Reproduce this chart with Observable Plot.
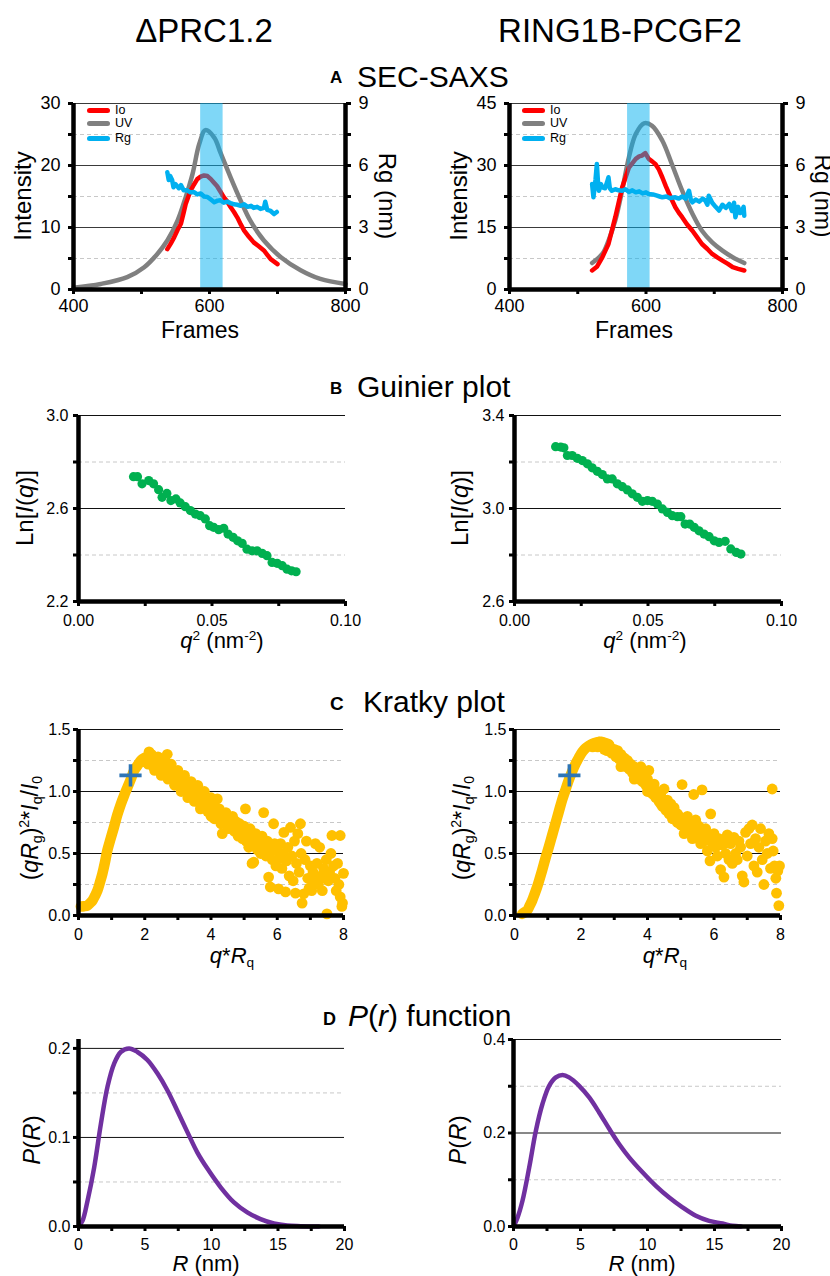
<!DOCTYPE html>
<html><head><meta charset="utf-8">
<script src="https://cdn.jsdelivr.net/npm/d3@7"></script>
<script src="https://cdn.jsdelivr.net/npm/@observablehq/plot@0.6"></script>
<style>
body{margin:0;background:#fff;}
#root{position:relative;width:830px;height:1276px;overflow:hidden;font-family:"Liberation Sans",Arial,Helvetica,sans-serif;color:#000;background:#fff;}
.t{position:absolute;white-space:nowrap;line-height:1;}
.sup{font-size:0.62em;position:relative;top:-0.6em;}
.sub{font-size:0.62em;position:relative;top:0.28em;}
</style></head><body><div id="root"></div><script>
const FONT = '"Liberation Sans", Arial, Helvetica, sans-serif';
const root = document.getElementById("root");

// ---------------- DATA ----------------
// A: SEC-SAXS, ΔPRC1.2  [frame, value]
const secL_uv = [[400,0.27],[440,0.9],[479,2.0],[504,3.6],[523,5.7],[538,7.9],[553,11.1],[565,14.9],[575,18.6],[585,23.5],[594,25.7],[607,24.5],[616,22.1],[631,18.1],[646,14.3],[660,11.1],[680,7.9],[705,5.2],[734,3.1],[763,1.7],[800,0.9]];
const secL_io = [[538,6.5],[543,7.4],[548,8.4],[553,9.6],[558,10.6],[562,12.4],[565,13.8],[569,15.0],[572,15.9],[577,16.9],[582,17.8],[587,18.2],[592,18.4],[597,18.3],[602,17.8],[606,17.3],[611,16.7],[616,15.8],[621,14.9],[626,14.2],[631,13.3],[636,12.5],[641,11.6],[646,10.5],[651,9.5],[658,8.5],[665,7.6],[672,7.0],[680,6.3],[685,5.6],[690,4.9],[695,4.5],[700,4.1]];
const secL_rg = [[538,5.67],[540,5.3],[542,5.5],[545,5.3],[547,4.95],[550,5.1],[555,4.9],[558,5.05],[562,4.8],[567,4.8],[572,4.7],[577,4.72],[582,4.6],[587,4.65],[592,4.5],[597,4.48],[602,4.35],[607,4.22],[612,4.3],[616,4.32],[621,4.2],[626,4.25],[631,4.18],[636,4.12],[641,4.1],[646,4.05],[651,4.12],[656,4.0],[661,4.05],[665,3.95],[670,4.0],[675,3.9],[680,3.95],[682,4.25],[685,3.85],[690,3.8],[695,3.65],[699,3.75]];
const secL_band = [587, 620];
// A: SEC-SAXS, RING1B-PCGF2
const secR_uv = [[521,6.4],[536,8.6],[545,11.8],[555,16.7],[565,23.9],[575,32.0],[585,37.6],[597,40.2],[609,39.6],[624,36.0],[638,30.3],[653,23.9],[668,18.3],[682,14.2],[697,11.4],[712,9.4],[727,7.8],[744,6.4]];
const secR_io = [[521,4.6],[528,5.5],[536,7.8],[545,11.0],[555,17.5],[565,24.7],[575,29.5],[585,31.6],[590,32.2],[594,32.4],[599,33.0],[604,31.6],[609,31.0],[614,30.3],[619,29.0],[624,27.1],[629,25.0],[634,23.1],[639,21.3],[643,19.9],[648,18.6],[653,17.5],[660,15.8],[668,14.2],[675,12.6],[682,11.0],[690,9.8],[697,8.6],[705,7.7],[712,7.0],[720,6.2],[727,5.4],[735,5.0],[744,4.6]];
const secR_rg = [[521,5.1],[523,4.46],[526,5.3],[528,6.07],[530,5.0],[531,4.78],[534,5.1],[536,4.94],[540,4.9],[543,5.2],[545,5.43],[547,4.9],[550,4.78],[555,4.85],[560,4.8],[565,4.78],[570,4.85],[575,4.72],[580,4.8],[585,4.7],[590,4.75],[595,4.65],[600,4.7],[604,4.62],[610,4.6],[615,4.55],[620,4.5],[624,4.46],[630,4.5],[635,4.42],[640,4.45],[643,4.46],[648,4.4],[653,4.5],[658,4.4],[663,4.78],[666,4.3],[668,4.22],[673,4.35],[678,4.25],[683,4.4],[687,4.3],[690,4.1],[692,4.54],[697,4.2],[702,4.0],[707,3.82],[712,4.1],[717,3.95],[722,4.14],[726,3.8],[729,4.2],[731,3.5],[735,4.0],[738,3.7],[741,3.82],[743,4.0],[744,3.57]];
const secR_band = [573, 606];
const secRgTicks = [0,1.5,3,4.5,6,7.5,9];
const secRgLabels = [0,3,6,9];
const secFrameTicks = [400,500,600,700,800];
const secFrameLabels = [400,600,800];
const legendItems = [["Io","#ff0000"],["UV","#808080"],["Rg","#00b0f0"]];

// B: Guinier [q^2, ln I]
const guinL = [[0.0206,2.737],[0.0221,2.737],[0.0238,2.706],[0.0263,2.72],[0.0281,2.706],[0.030,2.681],[0.0313,2.648],[0.0331,2.665],[0.0346,2.634],[0.0365,2.641],[0.0381,2.624],[0.040,2.608],[0.0419,2.591],[0.0438,2.576],[0.0456,2.569],[0.0475,2.555],[0.0491,2.526],[0.0506,2.519],[0.0525,2.509],[0.0544,2.515],[0.056,2.49],[0.0579,2.476],[0.0596,2.461],[0.0613,2.45],[0.0631,2.425],[0.065,2.418],[0.0669,2.418],[0.0688,2.407],[0.0706,2.397],[0.0725,2.368],[0.0744,2.364],[0.0763,2.354],[0.0781,2.339],[0.0798,2.332],[0.0815,2.328]];
const guinR = [[0.0154,3.266],[0.0173,3.264],[0.0185,3.261],[0.0198,3.228],[0.0216,3.228],[0.0235,3.216],[0.0254,3.206],[0.0273,3.192],[0.0291,3.175],[0.031,3.16],[0.0329,3.146],[0.0348,3.127],[0.0366,3.127],[0.0385,3.106],[0.0404,3.094],[0.0423,3.08],[0.0441,3.063],[0.046,3.048],[0.0479,3.031],[0.0498,3.034],[0.0516,3.031],[0.0535,3.019],[0.0554,2.998],[0.0573,2.983],[0.0591,2.969],[0.061,2.965],[0.0623,2.965],[0.0639,2.933],[0.0656,2.933],[0.0673,2.919],[0.0691,2.904],[0.071,2.89],[0.0729,2.879],[0.0748,2.861],[0.0766,2.854],[0.0789,2.859],[0.081,2.826],[0.0831,2.811],[0.0848,2.804]];

// C: Kratky [q*Rg, (qRg)^2*Iq/I0]
const kratLCurve = [[0.07,0.073],[0.17,0.075],[0.27,0.08],[0.35,0.1],[0.42,0.12],[0.5,0.16],[0.57,0.2],[0.65,0.27],[0.72,0.336],[0.8,0.43],[0.87,0.524],[0.97,0.62],[1.07,0.712],[1.17,0.81],[1.28,0.9],[1.38,0.97],[1.48,1.035],[1.58,1.1],[1.68,1.17],[1.78,1.21],[1.88,1.25],[1.98,1.27],[2.08,1.28],[2.18,1.285],[2.28,1.277]];
const kratLPts = [[2.0,1.24],[2.05,1.27],[2.1,1.22],[2.13,1.32],[2.18,1.26],[2.22,1.29],[2.26,1.2],[2.3,1.27],[2.35,1.23],[2.4,1.25],[2.44,1.18],[2.48,1.24],[2.52,1.2],[2.56,1.15],[2.6,1.22],[2.65,1.17],[2.68,1.3],[2.72,1.2],[2.76,1.13],[2.8,1.18],[2.85,1.14],[2.9,1.1],[2.95,1.16],[3.0,1.07],
[3.05,1.12],[3.1,1.04],[3.15,1.1],[3.2,1.06],[3.25,1.0],[3.3,1.08],[3.33,1.02],[3.38,0.98],[3.42,1.05],[3.48,0.97],[3.52,1.01],[3.56,0.94],[3.6,1.03],[3.65,0.96],[3.68,0.86],[3.72,0.92],[3.78,0.98],[3.82,0.9],[3.86,0.95],[3.9,0.88],[3.95,0.93],[4.0,0.8],
[4.05,0.87],[4.09,0.79],[4.14,0.84],[4.19,0.94],[4.24,0.8],[4.28,0.76],[4.34,0.66],[4.38,0.82],[4.42,0.74],[4.48,0.79],[4.52,0.7],[4.56,0.78],[4.6,0.72],[4.65,0.8],[4.7,0.68],[4.74,0.76],[4.78,0.71],[4.82,0.64],[4.86,0.74],[4.9,0.7],[4.95,0.62],[5.0,0.72],
[5.04,0.86],[5.06,0.6],[5.1,0.66],[5.14,0.55],[5.18,0.7],[5.22,0.62],[5.24,0.42],[5.29,0.43],[5.3,0.58],[5.35,0.66],[5.4,0.53],[5.45,0.6],[5.5,0.5],[5.54,0.64],[5.59,0.83],[5.62,0.56],[5.66,0.48],[5.7,0.6],[5.74,0.31],[5.79,0.23],[5.8,0.52],[5.85,0.45],[5.89,0.74],[5.92,0.58],[5.96,0.4],[6.0,0.52],
[6.04,0.215],[6.06,0.46],[6.1,0.58],[6.14,0.38],[6.18,0.5],[6.2,0.67],[6.25,0.19],[6.28,0.44],[6.32,0.55],[6.36,0.32],[6.4,0.71],[6.44,0.48],[6.48,0.28],[6.52,0.6],[6.55,0.18],[6.58,0.42],[6.62,0.66],[6.66,0.35],[6.7,0.74],[6.72,0.5],[6.75,0.1],[6.8,0.175],[6.84,0.45],[6.88,0.6],[6.92,0.3],[6.96,0.22],[7.0,0.4],
[7.04,0.2],[7.08,0.35],[7.12,0.28],[7.15,0.58],[7.2,0.42],[7.24,0.25],[7.28,0.55],[7.32,0.32],[7.36,0.2],[7.4,0.38],[7.44,0.3],[7.48,0.45],[7.5,0.013],[7.54,0.28],[7.58,0.35],[7.62,0.5],[7.65,0.645],[7.7,0.4],[7.74,0.3],[7.78,0.2],[7.82,0.42],[7.86,0.25],[7.9,0.645],[7.9,0.15],[7.95,0.073],[8.0,0.34],[7.97,0.1],
[2.2,1.3],[2.4,1.28],[2.6,1.26],[2.8,1.22],[3.0,1.17],[3.2,1.13],[3.4,1.08],[3.6,1.05],[3.8,1.0],[4.0,0.95],
[2.3,1.17],[2.5,1.13],[2.7,1.1],[2.9,1.05],[3.1,1.0],[3.3,0.95],[3.5,0.92],[3.7,0.88],[3.9,0.84],[4.1,0.78],[4.3,0.74],
[2.25,1.23],[2.45,1.21],[2.65,1.19],[2.85,1.14],[3.05,1.09],[3.25,1.05],[3.45,1.01],[3.65,0.97],[3.85,0.93],[4.05,0.9],[4.25,0.86],[4.45,0.83],[4.65,0.77],[4.85,0.74],[5.05,0.69],[5.25,0.66],[5.45,0.62]];
const kratLMark = [[1.57,1.13]];
const kratRCurve = [[0.23,0.013],[0.3,0.025],[0.38,0.04],[0.45,0.075],[0.53,0.12],[0.6,0.17],[0.68,0.23],[0.75,0.29],[0.83,0.363],[0.93,0.46],[1.03,0.55],[1.13,0.645],[1.23,0.74],[1.33,0.835],[1.43,0.93],[1.53,1.01],[1.63,1.09],[1.73,1.16],[1.83,1.22],[1.93,1.27],[2.04,1.32],[2.14,1.35],[2.24,1.37],[2.39,1.39],[2.54,1.4],[2.69,1.395],[2.84,1.38]];
const kratRPts = [[2.35,1.36],[2.45,1.38],[2.55,1.4],[2.62,1.4],[2.7,1.36],[2.78,1.33],[2.85,1.37],[2.92,1.31],[3.0,1.34],
[3.05,1.28],[3.1,1.33],[3.15,1.26],[3.2,1.3],[3.25,1.22],[3.3,1.27],[3.35,1.2],[3.4,1.25],[3.45,1.18],[3.5,1.22],[3.55,1.15],[3.6,1.2],[3.65,1.13],[3.7,1.17],[3.75,1.1],[3.8,1.2],[3.85,1.08],[3.9,1.13],[3.95,1.05],[4.0,1.1],[4.04,1.17],
[4.1,1.03],[4.15,0.98],[4.2,1.06],[4.25,0.95],[4.3,1.0],[4.35,0.92],[4.4,0.97],[4.45,0.88],[4.5,1.02],[4.55,0.85],[4.6,0.93],[4.65,0.82],[4.7,0.9],[4.75,0.78],[4.8,0.87],[4.85,0.83],[4.9,0.75],[4.95,0.8],[5.0,0.73],
[5.04,1.056],[5.39,0.976],[5.64,1.013],[7.75,1.02],
[5.05,0.78],[5.1,0.66],[5.15,0.72],[5.2,0.8],[5.25,0.68],[5.3,0.74],[5.35,0.62],[5.4,0.7],[5.45,0.77],[5.5,0.65],[5.55,0.72],[5.6,0.58],[5.65,0.68],[5.7,0.6],[5.75,0.7],[5.8,0.52],[5.85,0.63],[5.88,0.44],[5.9,0.82],[5.95,0.58],[6.0,0.66],
[6.05,0.55],[6.1,0.48],[6.15,0.62],[6.2,0.37],[6.25,0.57],[6.3,0.31],[6.35,0.5],[6.4,0.65],[6.45,0.45],[6.5,0.58],[6.55,0.42],[6.6,0.63],[6.65,0.5],[6.7,0.45],[6.75,0.6],[6.8,0.55],[6.85,0.32],[6.9,0.27],[6.95,0.67],[7.0,0.48],
[7.05,0.7],[7.1,0.58],[7.15,0.73],[7.2,0.4],[7.25,0.62],[7.3,0.35],[7.35,0.55],[7.4,0.7],[7.45,0.45],[7.5,0.25],[7.55,0.6],[7.6,0.5],[7.65,0.66],[7.7,0.38],[7.75,0.62],[7.78,0.52],[7.82,0.4],[7.86,0.3],[7.88,0.18],[7.92,0.36],[7.95,0.08],[7.97,0.4],
[2.5,1.36],[2.7,1.34],[2.9,1.33],[3.1,1.29],[3.3,1.24],[3.5,1.19],[3.7,1.14],[3.9,1.09],[4.1,1.04],[4.3,0.98],[4.5,0.93],[4.7,0.87],[4.9,0.82],[5.1,0.77],[5.3,0.73],[5.5,0.7],[5.7,0.66],[5.9,0.63],[6.1,0.6],[6.3,0.58],[3.2,1.2],[3.6,1.1],[4.0,1.0],[4.4,0.9],[4.8,0.79],[5.2,0.72]];
const kratRMark = [[1.65,1.13]];

// D: P(r) [R nm, P(R)]
const prL = [[0,0],[0.3,0.0064],[0.68,0.029],[1.18,0.0665],[1.68,0.115],[2.18,0.157],[2.68,0.183],[3.18,0.196],[3.8,0.2],[4.43,0.196],[5.18,0.187],[5.93,0.172],[6.68,0.153],[7.43,0.13],[8.19,0.106],[8.94,0.083],[9.69,0.065],[10.69,0.044],[11.69,0.027],[12.69,0.0158],[13.69,0.0083],[14.69,0.0034],[15.69,0.0011],[16.7,0.0004],[18.07,0]];
const prR = [[0,0],[0.3,0.019],[0.67,0.055],[1.17,0.126],[1.67,0.205],[2.16,0.262],[2.66,0.301],[3.16,0.319],[3.66,0.324],[4.15,0.319],[4.9,0.301],[5.65,0.276],[6.39,0.244],[7.14,0.209],[7.89,0.176],[8.63,0.148],[9.63,0.116],[10.62,0.087],[11.62,0.062],[12.61,0.041],[13.61,0.023],[14.6,0.012],[15.6,0.0064],[16.34,0.0014],[16.97,0]];

// ---------------- HELPERS ----------------
function txt(html, x, baseline, fs, o = {}) {
  const d = document.createElement("div");
  d.className = "t";
  d.innerHTML = html;
  d.style.fontSize = fs + "px";
  if (o.bold) d.style.fontWeight = "bold";
  d.style.top = (baseline - 0.86 * fs) + "px";
  d.style.left = x + "px";
  if (o.mid) d.style.transform = "translateX(-50%)";
  root.appendChild(d);
}
function vtxt(html, cx, cy, fs, rot) {
  const d = document.createElement("div");
  d.className = "t";
  d.innerHTML = html;
  d.style.fontSize = fs + "px";
  d.style.left = cx + "px";
  d.style.top = cy + "px";
  d.style.transform = `translate(-50%,-50%) rotate(${rot}deg)`;
  root.appendChild(d);
}
function legend(x, ys) {
  legendItems.forEach(([label, color], i) => {
    const bar = document.createElement("div");
    bar.style.cssText = `position:absolute;left:${x}px;top:${ys[i] - 2.5}px;width:23px;height:5px;background:${color};border-radius:2.5px;`;
    root.appendChild(bar);
    txt(label, x + 28, ys[i] + 4.5, 12.5);
  });
}
const P = d => d[0], V = d => d[1];

function panel(o) {
  const m = {l: 70, r: o.right ? 45 : 25, t: 12, b: 40};
  const W = o.x1 - o.x0, H = o.y1 - o.y0;
  const fmtX = d => o.xLabels.includes(d) ? o.xFmt(d) : "";
  const fmtY = d => o.yLabels.includes(d) ? o.yFmt(d) : "";
  const marks = [
    Plot.ruleY(o.yMinor, {stroke: "#c8c8c8", strokeWidth: 1, strokeDasharray: "4,3"}),
    Plot.ruleY(o.yMajor, {stroke: o.gridColor || "#111", strokeWidth: 1}),
    ...o.marks,
    Plot.ruleX([o.xDomain[0]], {stroke: "#000", strokeWidth: 4.5}),
    Plot.ruleY([o.yDomain[0]], {stroke: "#000", strokeWidth: 4.5}),
    Plot.axisX({ticks: o.xTicks, tickFormat: fmtX, tickSize: 5, tickPadding: o.xPad, strokeWidth: 3, fontSize: o.fs, label: null}),
    Plot.axisY({ticks: o.yTicks, tickFormat: fmtY, tickSize: 5, tickPadding: o.yPad, strokeWidth: 3, fontSize: o.fs, label: null})
  ];
  if (o.right) {
    marks.push(Plot.ruleX([o.xDomain[1]], {stroke: "#000", strokeWidth: 4.5}));
    marks.push(Plot.axisY({anchor: "right", ticks: o.right.ticks, tickFormat: o.right.fmt, tickSize: 5, tickPadding: 8, strokeWidth: 3, fontSize: o.fs, label: null}));
  }
  const svg = Plot.plot({
    width: W + m.l + m.r, height: H + m.t + m.b,
    marginLeft: m.l, marginRight: m.r, marginTop: m.t, marginBottom: m.b,
    style: {fontFamily: FONT, fontSize: o.fs + "px", color: "#000", background: "transparent", overflow: "visible"},
    x: {domain: o.xDomain, label: null},
    y: {domain: o.yDomain, label: null},
    marks
  });
  svg.style.position = "absolute";
  svg.style.left = (o.x0 - m.l) + "px";
  svg.style.top = (o.y0 - m.t) + "px";
  svg.style.maxWidth = "none";
  root.appendChild(svg);
}

// ---------------- PANEL A ----------------
function secPanel(x0, x1, yMax, uv, io, rg, band) {
  const f = yMax / 9;
  const step = yMax / 6;
  const yTicks = secRgTicks.map(v => v * f);
  panel({
    x0, x1, y0: 103, y1: 289, fs: 18, xPad: 5, yPad: 8, gridColor: "#3a3a3a",
    xDomain: [400, 800], yDomain: [0, yMax],
    xTicks: secFrameTicks, xLabels: secFrameLabels, xFmt: d => String(d),
    yTicks, yLabels: secRgLabels.map(v => v * f), yFmt: d => String(Math.round(d)),
    yMajor: [2, 4, 6].map(k => k * step), yMinor: [1, 3, 5].map(k => k * step),
    right: {ticks: yTicks, fmt: d => { const v = Math.round(d / f * 10) / 10; return secRgLabels.includes(v) ? String(v) : ""; }},
    marks: [
      Plot.line(uv, {x: P, y: V, stroke: "#808080", strokeWidth: 4.5, curve: "catmull-rom"}),
      Plot.line(io, {x: P, y: V, stroke: "#ff0000", strokeWidth: 4.5, strokeLinejoin: "round"}),
      Plot.line(rg, {x: P, y: d => d[1] * f, stroke: "#00b0f0", strokeWidth: 4.5, strokeLinejoin: "round"}),
      Plot.rect([band], {x1: d => d[0], x2: d => d[1], fill: "#00b0f0", fillOpacity: 0.5})
    ]
  });
}
secPanel(73, 345, 30, secL_uv, secL_io, secL_rg, secL_band);
secPanel(509, 782, 45, secR_uv, secR_io, secR_rg, secR_band);

// ---------------- PANEL B ----------------
function guinPanel(x0, x1, yMin, data) {
  const ys = [0, 1, 2, 3, 4].map(k => +(yMin + k * 0.2).toFixed(1));
  panel({
    x0, x1, y0: 415, y1: 601, fs: 16, xPad: 8, yPad: 5,
    xDomain: [0, 0.1], yDomain: [yMin, yMin + 0.8],
    xTicks: [0, 0.025, 0.05, 0.075, 0.1], xLabels: [0, 0.05, 0.1], xFmt: d => d.toFixed(2),
    yTicks: ys, yLabels: [ys[0], ys[2], ys[4]], yFmt: d => d.toFixed(1),
    yMajor: [ys[2], ys[4]], yMinor: [ys[1], ys[3]],
    marks: [Plot.dot(data, {x: P, y: V, r: 4.6, fill: "#00b050"})]
  });
}
guinPanel(78, 345, 2.2, guinL);
guinPanel(514, 781, 2.6, guinR);

// ---------------- PANEL C ----------------
function kratPanel(x0, x1, curve, pts, mark) {
  panel({
    x0, x1, y0: 729, y1: 915, fs: 16, xPad: 8, yPad: 3,
    xDomain: [0, 8], yDomain: [0, 1.5],
    xTicks: [0, 1, 2, 3, 4, 5, 6, 7, 8], xLabels: [0, 2, 4, 6, 8], xFmt: d => String(d),
    yTicks: [0, 0.25, 0.5, 0.75, 1, 1.25, 1.5], yLabels: [0, 0.5, 1, 1.5], yFmt: d => d.toFixed(1),
    yMajor: [0.5, 1, 1.5], yMinor: [0.25, 0.75, 1.25],
    marks: [
      Plot.line(curve, {x: P, y: V, stroke: "#ffc000", strokeWidth: 10.5, strokeLinecap: "round", curve: "catmull-rom"}),
      Plot.dot(pts, {x: P, y: V, r: 5.4, fill: "#ffc000"}),
      Plot.dot(mark, {x: P, y: V, r: 7.2, symbol: "plus", stroke: "#2e75b6", strokeWidth: 3.6})
    ]
  });
}
kratPanel(78, 343, kratLCurve, kratLPts, kratLMark);
kratPanel(514, 780, kratRCurve, kratRPts, kratRMark);

// ---------------- PANEL D ----------------
function prPanel(x0, x1, yMax, top, yStep, data) {
  const ys = [0, 1, 2, 3, 4].map(k => +(k * yStep).toFixed(2));
  panel({
    x0, x1, y0: top, y1: 1226, fs: 16, xPad: 7, yPad: 3,
    xDomain: [0, 20], yDomain: [0, yMax],
    xTicks: [0, 2.5, 5, 7.5, 10, 12.5, 15, 17.5, 20], xLabels: [0, 5, 10, 15, 20], xFmt: d => String(d),
    yTicks: ys, yLabels: [ys[0], ys[2], ys[4]], yFmt: d => d.toFixed(1),
    yMajor: [ys[2], ys[4]], yMinor: [ys[1], ys[3]],
    marks: [Plot.line(data, {x: P, y: V, stroke: "#7030a0", strokeWidth: 4.5, curve: "catmull-rom"})]
  });
}
prPanel(78, 344, 0.21, 1039, 0.05, prL);
prPanel(513, 781, 0.4, 1039, 0.1, prR);

// ---------------- TEXT ----------------
txt("ΔPRC1.2", 204, 42, 33, {mid: true});
txt("RING1B-PCGF2", 620, 42, 33, {mid: true});
txt("A", 330, 84, 17, {bold: true}); txt("SEC-SAXS", 357, 88, 30);
txt("B", 330, 395, 17, {bold: true}); txt("Guinier plot", 357, 398, 30);
txt("C", 330, 710, 19, {bold: true}); txt("Kratky plot", 363, 713, 30);
txt("D", 323, 1025, 18, {bold: true}); txt("<i>P</i>(<i>r</i>) function", 348, 1027, 30);

legend(87, [110, 123.5, 138]);
legend(522, [110, 123.5, 138]);

const q2 = '<i>q</i><span class="sup">2</span> (nm<span class="sup">-2</span>)';
const lnI = 'Ln[<i>I</i>(<i>q</i>)]';
const kY = '(<i>qR</i><span class="sub">g</span>)<span class="sup">2</span>*<i>I</i><span class="sub">q</span>/<i>I</i><span class="sub">0</span>';
const kX = '<i>q</i>*<i>R</i><span class="sub">q</span>';
const pY = '<i>P</i>(<i>R</i>)';
const pX = '<i>R</i> (nm)';

vtxt("Intensity", 23, 196, 24, -90); txt("Frames", 200, 339, 23, {mid: true}); vtxt("Rg (nm)", 387, 196, 24, 90);
vtxt("Intensity", 459, 196, 24, -90); txt("Frames", 634, 339, 23, {mid: true}); vtxt("Rg (nm)", 822, 196, 23, 90);
vtxt(lnI, 25, 508, 24, -90); txt(q2, 222, 649, 22, {mid: true});
vtxt(lnI, 460, 508, 24, -90); txt(q2, 645, 649, 22, {mid: true});
vtxt(kY, 30, 828, 23, -90); txt(kX, 232, 964, 22, {mid: true});
vtxt(kY, 462, 828, 23, -90); txt(kX, 665, 964, 22, {mid: true});
vtxt(pY, 32, 1140, 24, -90); txt(pX, 206, 1272, 22, {mid: true});
vtxt(pY, 458, 1140, 24, -90); txt(pX, 642, 1272, 22, {mid: true});
</script></body></html>
